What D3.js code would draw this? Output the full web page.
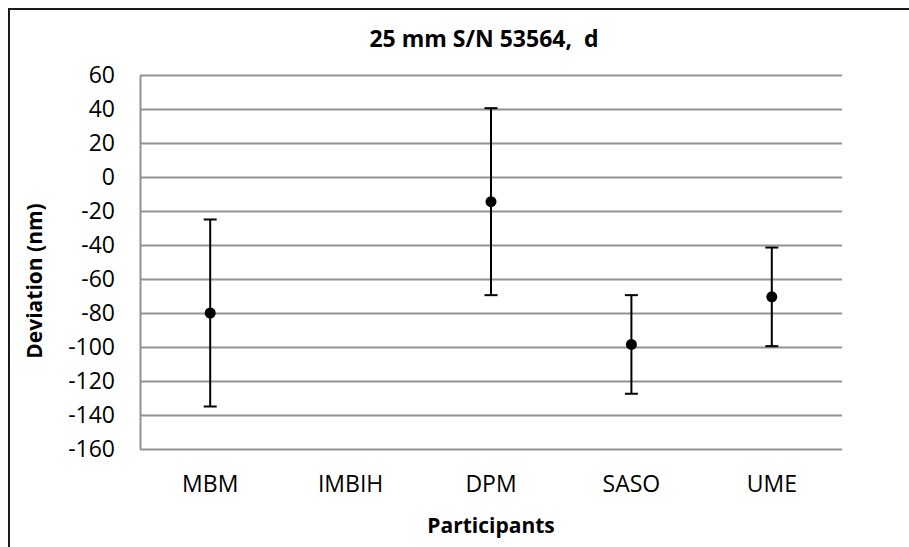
<!DOCTYPE html>
<meta charset="utf-8">
<script src="https://d3js.org/d3.v7.min.js"></script>
<style>
  body { margin: 0; background: #fff; }
  text { font-family: "Open Sans", sans-serif; fill: #000; }
</style>
<div id="chart"></div>
<script>

// data
var participants = ["MBM", "IMBIH", "DPM", "SASO", "UME"];
var deviation = [-80, null, -14.5, -98.5, -70.5];   // nm
var uncertainty = [55, null, 55, 29, 29];           // +/- nm
var yTickValues = [60, 40, 20, 0, -20, -40, -60, -80, -100, -120, -140, -160];

var chartTitle = "25 mm S/N 53564,  d";
var xTitle = "Participants";
var yTitle = "Deviation (nm)";

var W = 909, H = 547;
var plot = {left: 140, right: 842, top: 75, bottom: 449};

var svg = d3.select("#chart").append("svg")
    .attr("width", W)
    .attr("height", H);

// outer chart frame (cropped on the right and bottom)
svg.append("rect")
    .attr("x", 9).attr("y", 9)
    .attr("width", W + 20).attr("height", H + 20)
    .attr("fill", "#fff")
    .attr("stroke", "#1a1a1a")
    .attr("stroke-width", 2);

var x = d3.scaleBand()
    .domain(participants)
    .range([plot.left, plot.right]);

var y = d3.scaleLinear()
    .domain([-160, 60])
    .range([plot.bottom, plot.top]);

// y axis + gridlines (plain hyphen minus like the original)
var yAxis = svg.append("g")
    .attr("transform", "translate(" + plot.left + ",0)")
    .call(d3.axisLeft(y)
      .tickValues(yTickValues)
      .tickSizeInner(-(plot.right - plot.left))
      .tickSizeOuter(0)
      .tickPadding(25)
      .tickFormat(function(d) { return String(d); }));
yAxis.selectAll("line").attr("stroke", "#929292").attr("stroke-width", 2);
yAxis.select(".domain").attr("stroke", "#929292").attr("stroke-width", 2);
yAxis.selectAll("text")
    .attr("font-size", 23)
    .attr("font-family", "Open Sans")
    .attr("fill", "#000");

// x axis labels only
var xAxis = svg.append("g")
    .attr("transform", "translate(0," + plot.bottom + ")")
    .call(d3.axisBottom(x).tickSize(0).tickPadding(27));
xAxis.select(".domain").remove();
xAxis.selectAll("text")
    .attr("font-size", 23)
    .attr("font-family", "Open Sans")
    .attr("fill", "#000");

// error bars
var pts = participants.map(function(p, i) {
  return {name: p, v: deviation[i], u: uncertainty[i]};
}).filter(function(d) { return d.v !== null; });

var cx = function(d) { return x(d.name) + x.bandwidth() / 2; };
var capW = 6.5;

var bars = svg.append("g").selectAll("g")
  .data(pts)
  .enter().append("g");

bars.append("line")
    .attr("x1", cx).attr("x2", cx)
    .attr("y1", function(d) { return y(d.v + d.u); })
    .attr("y2", function(d) { return y(d.v - d.u); })
    .attr("stroke", "#000").attr("stroke-width", 2);
bars.append("line")
    .attr("x1", function(d) { return cx(d) - capW; })
    .attr("x2", function(d) { return cx(d) + capW; })
    .attr("y1", function(d) { return y(d.v + d.u); })
    .attr("y2", function(d) { return y(d.v + d.u); })
    .attr("stroke", "#000").attr("stroke-width", 2);
bars.append("line")
    .attr("x1", function(d) { return cx(d) - capW; })
    .attr("x2", function(d) { return cx(d) + capW; })
    .attr("y1", function(d) { return y(d.v - d.u); })
    .attr("y2", function(d) { return y(d.v - d.u); })
    .attr("stroke", "#000").attr("stroke-width", 2);
bars.append("circle")
    .attr("cx", cx)
    .attr("cy", function(d) { return y(d.v); })
    .attr("r", 5.5)
    .attr("fill", "#000");

// titles
svg.append("text")
    .attr("x", 484).attr("y", 47)
    .attr("text-anchor", "middle")
    .attr("font-size", 23)
    .attr("font-weight", "bold")
    .style("white-space", "pre")
    .text(chartTitle);

svg.append("text")
    .attr("x", 491).attr("y", 533)
    .attr("text-anchor", "middle")
    .attr("font-size", 21)
    .attr("font-weight", "bold")
    .text(xTitle);

svg.append("text")
    .attr("transform", "translate(42,281) rotate(-90)")
    .attr("text-anchor", "middle")
    .attr("font-size", 21)
    .attr("font-weight", "bold")
    .text(yTitle);

</script>
